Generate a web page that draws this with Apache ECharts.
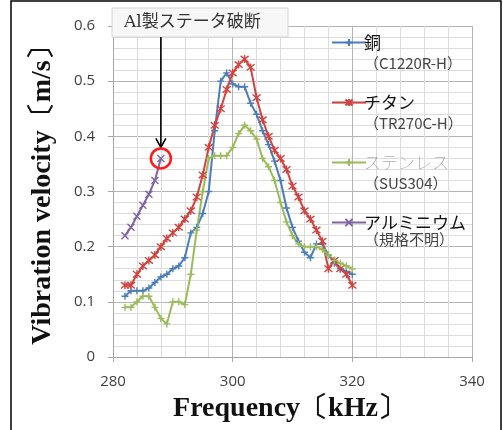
<!DOCTYPE html>
<html><head><meta charset="utf-8">
<script src="https://cdn.jsdelivr.net/npm/echarts@6/dist/echarts.min.js"></script>
<style>html,body{margin:0;padding:0;background:#fff}#c{width:503px;height:430px}</style>
</head><body><div id="c"></div>
<script>
// ---- data ----
const freq = [282,283,284,285,286,287,288,289,290,291,292,293,294,295,296,297,298,299,300,301,302,303,304,305,306,307,308,309,310,311,312,313,314,315,316,317,318,319,320];
const copper = [0.11,0.12,0.12,0.12,0.125,0.135,0.145,0.15,0.16,0.165,0.18,0.225,0.235,0.26,0.30,0.41,0.50,0.515,0.495,0.49,0.49,0.46,0.44,0.41,0.385,0.355,0.32,0.27,0.235,0.21,0.19,0.18,0.205,0.205,0.185,0.17,0.16,0.155,0.15];
const titanium = [0.13,0.13,0.15,0.165,0.175,0.185,0.20,0.215,0.225,0.235,0.25,0.265,0.29,0.33,0.38,0.42,0.45,0.485,0.515,0.53,0.54,0.525,0.47,0.43,0.40,0.375,0.36,0.34,0.31,0.29,0.265,0.25,0.23,0.21,0.16,0.175,0.16,0.15,0.13];
const stainless = [0.09,0.09,0.10,0.11,0.11,0.09,0.07,0.06,0.10,0.10,0.095,0.15,0.23,0.30,0.36,0.365,0.365,0.365,0.38,0.405,0.42,0.41,0.395,0.36,0.345,0.32,0.28,0.245,0.22,0.205,0.20,0.20,0.20,0.195,0.185,0.175,0.17,0.165,0.16];
const alFreq = [282,283,284,285,286,287,288];
const aluminium = [0.22,0.235,0.255,0.275,0.295,0.32,0.36];
const seriesNames = ['銅','チタン','ステンレス','アルミニウム'];
const seriesSub = ['（C1220R-H）','（TR270C-H）','（SUS304）','（規格不明）'];
const xTicks = [280,300,320,340];
const annotation = 'Al製ステータ破断';
const breakPoint = [288, 0.36];

const pair = (xs, ys) => xs.map((x, i) => [x, ys[i]]);
const PLUS = 'path://M0,5L10,5M5,0L5,10';
const STAR = 'path://M1,1L9,9M9,1L1,9M5,0L5,10';
const CROSS = 'path://M1,1L9,9M9,1L1,9';
const colors = ['#4a7ebb','#d0433f','#9bbb59','#8064a2'];
const symbols = [PLUS, STAR, PLUS, CROSS];
const datas = [pair(freq, copper), pair(freq, titanium), pair(freq, stainless), pair(alFreq, aluminium)];

const chart = echarts.init(document.getElementById('c'));
const series = seriesNames.map((n, i) => ({
  name: n, type: 'line', data: datas[i], color: colors[i],
  symbol: symbols[i], symbolSize: i === 1 ? 8 : 7, showAllSymbol: true,
  lineStyle: { width: 2, color: colors[i] },
  itemStyle: { color: 'none', borderColor: colors[i], borderWidth: 1.4 },
  emphasis: { disabled: true }, animation: false
}));

chart.setOption({
  animation: false,
  grid: { left: 113, right: 31, top: 26, bottom: 73 },
  xAxis: {
    type: 'value', min: 280, max: 340, interval: 20,
    axisLine: { show: true, lineStyle: { color: '#a6a6a6' } },
    axisTick: { show: true, length: 5, lineStyle: { color: '#a6a6a6' } },
    axisLabel: { margin: 17, fontSize: 15, color: '#404040', fontFamily: 'Open Sans',
      formatter: v => xTicks.includes(v) ? String(v) : '' },
    splitLine: { show: true, lineStyle: { color: '#b4b4b4', width: 1 } },
    minorSplitLine: { show: true, lineStyle: { color: '#dcdcdc', width: 1 } },
    minorTick: { show: false, splitNumber: 5 },
    name: 'Frequency〔kHz〕', nameLocation: 'middle', nameGap: 38,
    nameTextStyle: { fontFamily: 'Liberation Serif', fontWeight: 'bold', fontSize: 28, color: '#111', padding: [0, 6, 0, 0] }
  },
  yAxis: {
    type: 'value', min: 0, max: 0.6, interval: 0.1,
    axisLine: { show: true, lineStyle: { color: '#a6a6a6' } },
    axisTick: { show: true, length: 5, lineStyle: { color: '#a6a6a6' } },
    axisLabel: { margin: 18, fontSize: 15, color: '#404040', fontFamily: 'Open Sans',
      formatter: v => v === 0 ? '0' : v.toFixed(1) },
    splitLine: { show: true, lineStyle: { color: '#b4b4b4', width: 1 } },
    minorSplitLine: { show: true, lineStyle: { color: '#dcdcdc', width: 1 } },
    minorTick: { show: false, splitNumber: 5 },
    name: 'Vibration velocity〔m/s〕', nameLocation: 'middle', nameGap: 56, nameRotate: 90,
    nameTextStyle: { fontFamily: 'Liberation Serif', fontWeight: 'bold', fontSize: 28, color: '#111', padding: [0, 0, 0, 6] }
  },
  legend: {
    orient: 'vertical', left: 326, top: 29, itemWidth: 34, itemHeight: 9, itemGap: 43,
    selectedMode: false,
    textStyle: { fontSize: 17, color: '#111', fontFamily: 'Noto Sans CJK JP', padding: [0,0,0,-7] },
    data: seriesNames.map((n, i) => i === 2 ? { name: n, textStyle: { color: '#8a8a8a', fontWeight: 'lighter' } } : { name: n })
  },
  series
});

const p = chart.convertToPixel({ gridIndex: 0 }, breakPoint);
const legendY = [63, 123, 183, 239];
const graphics = [
  { type: 'rect', shape: { x: 11, y: 1, width: 490, height: 440 }, style: { fill: 'none', stroke: '#000', lineWidth: 1.5 }, silent: true, z: 100 },
  { type: 'rect', shape: { x: 112, y: 8, width: 176, height: 29 }, style: { fill: '#f7f7f7', stroke: '#d4d4d4', lineWidth: 1 }, z: 50 },
  { type: 'text', x: 124, y: 23, style: { text: annotation, font: '17px "DejaVu Serif", "Noto Sans CJK JP"', fill: '#333', textVerticalAlign: 'middle' }, z: 51 },
  { type: 'line', shape: { x1: p[0], y1: 37, x2: p[0], y2: p[1] - 11 }, style: { stroke: '#000', lineWidth: 1.6 }, z: 52 },
  { type: 'polyline', shape: { points: [[p[0] - 5, p[1] - 20], [p[0], p[1] - 11], [p[0] + 5, p[1] - 20]] }, style: { stroke: '#000', lineWidth: 1.6, fill: 'none' }, z: 52 },
  { type: 'circle', shape: { cx: p[0], cy: p[1], r: 10 }, style: { stroke: '#ff1a1a', lineWidth: 2.5, fill: 'none' }, z: 52 }
];
seriesSub.forEach((s, i) => graphics.push({
  type: 'text', x: 364, y: legendY[i],
  style: { text: s, font: '15px "Noto Sans CJK JP"', fill: '#444', textVerticalAlign: 'middle' }, z: 51
}));
chart.setOption({ graphic: graphics });
</script></body></html>
